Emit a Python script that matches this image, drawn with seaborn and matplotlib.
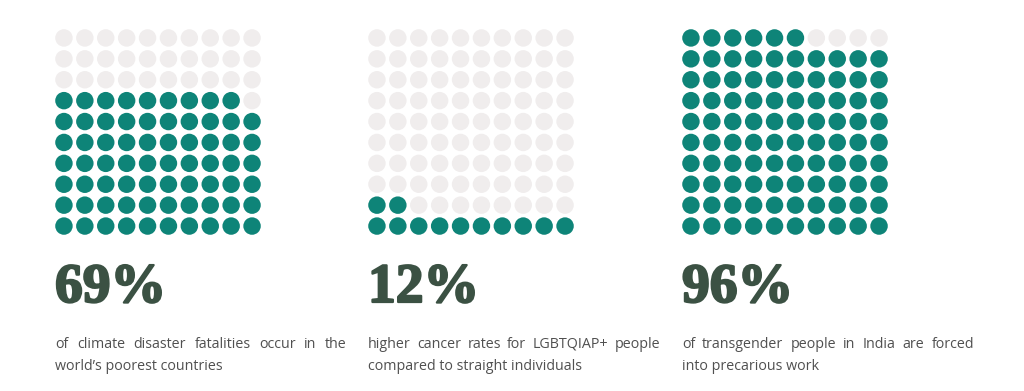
import matplotlib
matplotlib.use("Agg")
import matplotlib.pyplot as plt
import matplotlib.patheffects as pe
import seaborn as sns
import pandas as pd

# data
percentages = [69, 12, 96]
labels = ["69%", "12%", "96%"]
captions = [
    ["of climate disaster fatalities occur in the", "world\u2019s poorest countries"],
    ["higher cancer rates for LGBTQIAP+ people", "compared to straight individuals"],
    ["of transgender people in India are forced", "into precarious work"],
]

TEAL = "#0e8478"
EMPTY = "#f0eded"
NUM_COLOR = "#3b5143"
TEXT_COLOR = "#505050"

W, H = 1024, 391


def waffle_frame(pct):
    rows = []
    for i in range(100):
        r, c = divmod(i, 10)  # filled from bottom row, left to right
        rows.append({"x": c, "y": r, "state": "on" if i < pct else "off"})
    return pd.DataFrame(rows)


sns.set_style("white")
fig = plt.figure(figsize=(W / 100, H / 100), dpi=100)

panel_left = [53.5, 366.5, 680.5]
grid_px = 209
grid_top = 27.5

for k, pct in enumerate(percentages):
    ax = fig.add_axes([panel_left[k] / W, 1 - (grid_top + grid_px) / H, grid_px / W, grid_px / H])
    df = waffle_frame(pct)
    sns.scatterplot(data=df, x="x", y="y", hue="state", palette={"on": TEAL, "off": EMPTY},
                    s=158, linewidth=0, legend=False, ax=ax)
    ax.set_xlim(-0.5, 9.5)
    ax.set_ylim(-0.5, 9.5)
    ax.axis("off")

    x0 = (panel_left[k] + 1.5) / W
    fig.text(x0, 1 - 302 / H, labels[k], family="Liberation Serif", weight="bold",
             fontsize=40, color=NUM_COLOR, va="baseline", ha="left",
             path_effects=[pe.withStroke(linewidth=1.6, foreground=NUM_COLOR)])

fig.canvas.draw()
renderer = fig.canvas.get_renderer()
line_width_px = 292
cap_font = dict(family="Open Sans", fontsize=10.3, color=TEXT_COLOR, va="baseline", ha="left")


def justified(x_px, y_px, text, justify):
    words = text.split(" ")
    if not justify:
        fig.text(x_px / W, 1 - y_px / H, text, **cap_font)
        return
    objs = [fig.text(0, 0, w, **cap_font) for w in words]
    widths = [o.get_window_extent(renderer).width for o in objs]
    gap = (line_width_px - sum(widths)) / (len(words) - 1)
    cur = x_px
    for o, wd in zip(objs, widths):
        o.set_position((cur / W, 1 - y_px / H))
        cur += wd + gap


for k in range(3):
    x_px = panel_left[k] + 1.5
    justified(x_px, 348, captions[k][0], True)
    justified(x_px, 370, captions[k][1], False)

fig.savefig("out.png", dpi=100, facecolor="white")
